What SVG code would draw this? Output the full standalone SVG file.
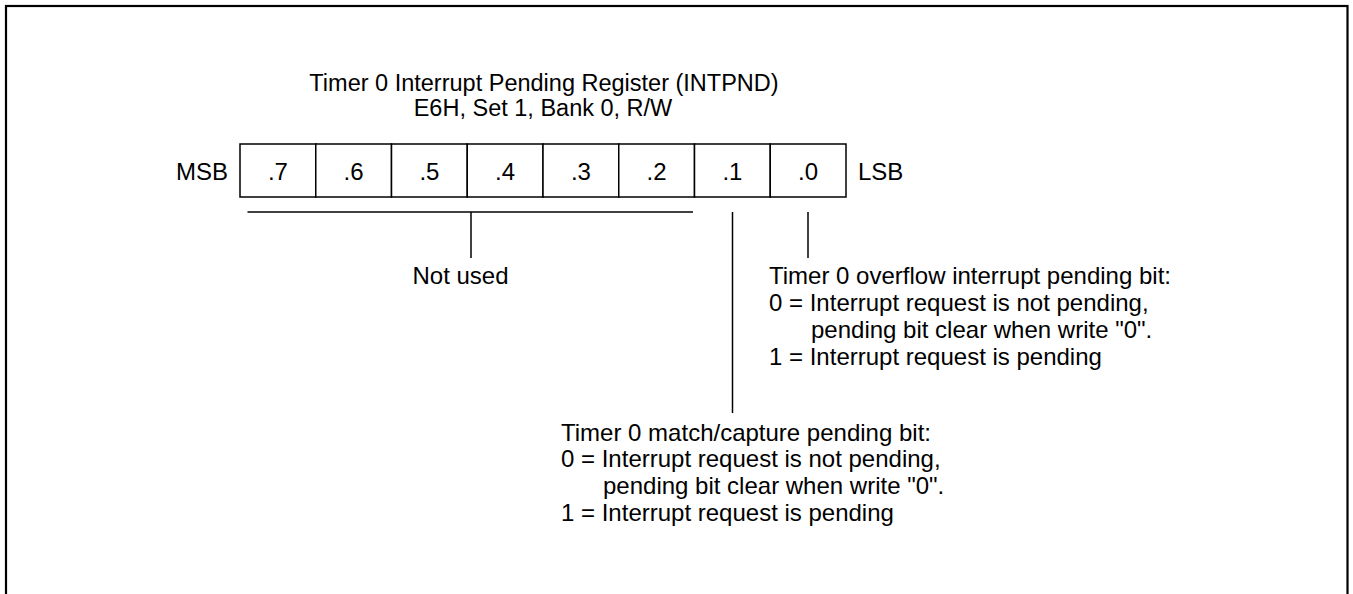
<svg xmlns="http://www.w3.org/2000/svg" width="1353" height="594" viewBox="0 0 1353 594">
<style>
text{font-family:"Liberation Sans",Arial,Helvetica,sans-serif;font-size:24px;fill:#000}
.c{text-anchor:middle}
.t{font-size:23.5px}
.cell{fill:#fff;stroke:#000;stroke-width:1.5}
.ln{stroke:#000;stroke-width:1.5;fill:none}
</style>
<rect x="6" y="6" width="1341.5" height="600" fill="#fff" stroke="#000" stroke-width="2.2"/>
<g id="title">
<text class="c t" x="544" y="91">Timer 0 Interrupt Pending Register (INTPND)</text>
<text class="c t" x="543" y="116">E6H, Set 1, Bank 0, R/W</text>
</g>
<g id="register">
<rect class="cell" x="240" y="144" width="75.75" height="53"/>
<rect class="cell" x="315.75" y="144" width="75.75" height="53"/>
<rect class="cell" x="391.5" y="144" width="75.75" height="53"/>
<rect class="cell" x="467.25" y="144" width="75.75" height="53"/>
<rect class="cell" x="543" y="144" width="75.75" height="53"/>
<rect class="cell" x="618.75" y="144" width="75.75" height="53"/>
<rect class="cell" x="694.5" y="144" width="75.75" height="53"/>
<rect class="cell" x="770.25" y="144" width="75.75" height="53"/>
<text class="c" x="277.9" y="180">.7</text>
<text class="c" x="353.6" y="180">.6</text>
<text class="c" x="429.4" y="180">.5</text>
<text class="c" x="505.1" y="180">.4</text>
<text class="c" x="580.9" y="180">.3</text>
<text class="c" x="656.6" y="180">.2</text>
<text class="c" x="732.4" y="180">.1</text>
<text class="c" x="808.1" y="180">.0</text>
<text x="228" y="180" text-anchor="end">MSB</text>
<text x="858" y="180">LSB</text>
</g>
<g id="connectors">
<line class="ln" x1="247.5" y1="212" x2="693" y2="212"/>
<line class="ln" x1="471" y1="212" x2="471" y2="258"/>
<line class="ln" x1="732.5" y1="212" x2="732.5" y2="413"/>
<line class="ln" x1="808" y1="212" x2="808" y2="258"/>
</g>
<g id="not-used">
<text class="c" x="460.5" y="284">Not used</text>
</g>
<g id="overflow-bit">
<text x="769" y="284">Timer 0 overflow interrupt pending bit:</text>
<text x="769" y="311">0 = Interrupt request is not pending,</text>
<text x="811" y="338">pending bit clear when write "0".</text>
<text x="769" y="365">1 = Interrupt request is pending</text>
</g>
<g id="match-bit">
<text x="561" y="441">Timer 0 match/capture pending bit:</text>
<text x="561" y="467">0 = Interrupt request is not pending,</text>
<text x="603" y="494">pending bit clear when write "0".</text>
<text x="561" y="521">1 = Interrupt request is pending</text>
</g>
</svg>
